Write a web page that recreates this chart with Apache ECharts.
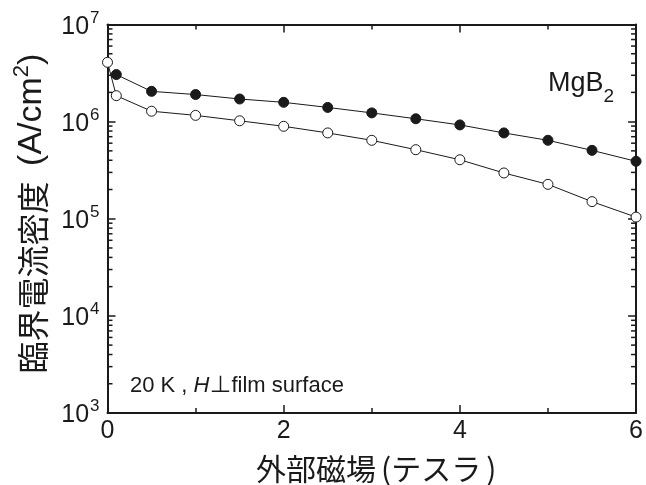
<!DOCTYPE html>
<html>
<head>
<meta charset="utf-8">
<script src="https://cdn.jsdelivr.net/npm/echarts@6/dist/echarts.min.js"></script>
<style>html,body{margin:0;padding:0;background:#fff;}#c{width:646px;height:485px;}</style>
</head>
<body>
<div id="c"></div>
<script>
// Magnetic field (T)
const fieldFilled = [0.1, 0.5, 1, 1.5, 2, 2.5, 3, 3.5, 4, 4.5, 5, 5.5, 6];
const jcFilled = [3.05e6, 2.05e6, 1.90e6, 1.71e6, 1.58e6, 1.40e6, 1.23e6, 1.07e6, 9.25e5, 7.65e5, 6.42e5, 5.06e5, 3.90e5];
const fieldOpen = [0, 0.1, 0.5, 1, 1.5, 2, 2.5, 3, 3.5, 4, 4.5, 5, 5.5, 6];
const jcOpen = [4.08e6, 1.85e6, 1.28e6, 1.16e6, 1.02e6, 8.95e5, 7.65e5, 6.42e5, 5.14e5, 4.05e5, 2.96e5, 2.26e5, 1.50e5, 1.04e5];
const xTicks = [0, 2, 4, 6];
const yMinorTicks = [2e3,3e3,4e3,5e3,6e3,7e3,8e3,9e3,2e4,3e4,4e4,5e4,6e4,7e4,8e4,9e4,2e5,3e5,4e5,5e5,6e5,7e5,8e5,9e5,2e6,3e6,4e6,5e6,6e6,7e6,8e6,9e6];

const FONT = '"Liberation Sans", Arial, "Noto Sans CJK JP", sans-serif';
const CJK = '"Noto Sans CJK JP", "Liberation Sans", sans-serif';
const INK = '#1a1a1a';

const chart = echarts.init(document.getElementById('c'), null, {renderer: 'canvas'});

const supLabel = v => {
  const e = Math.round(Math.log10(v));
  return '{b|10}{s|' + e + '}';
};

const xCommon = {
  type: 'value', min: xTicks[0], max: xTicks[xTicks.length - 1], interval: 2,
  axisLine: {show: true, onZero: false, lineStyle: {color: INK, width: 2}},
  axisTick: {show: true, inside: true, length: 8, lineStyle: {color: INK, width: 1.5}},
  minorTick: {show: true, splitNumber: 2, length: 5, lineStyle: {color: INK, width: 1.5}},
  splitLine: {show: false}, minorSplitLine: {show: false}
};
const yCommon = {
  type: 'log', logBase: 10, min: 1e3, max: 1e7,
  axisLine: {show: true, onZero: false, lineStyle: {color: INK, width: 2}},
  axisTick: {show: true, inside: true, length: 8, lineStyle: {color: INK, width: 1.5}},
  splitLine: {show: false}
};

chart.setOption({
  animation: false,
  backgroundColor: '#fff',
  grid: {left: 107.5, right: 6.5, top: 24.5, bottom: 72},
  xAxis: [
    Object.assign({}, xCommon, {
      position: 'bottom',
      axisLabel: {show: true, margin: 6, color: INK, fontSize: 25, fontFamily: FONT}
    }),
    Object.assign({}, xCommon, {position: 'top', axisLabel: {show: false}})
  ],
  yAxis: [
    Object.assign({}, yCommon, {
      position: 'left',
      axisLabel: {
        show: true, margin: 8, formatter: supLabel, color: INK,
        rich: {
          b: {fontSize: 25, fontFamily: FONT, color: INK, lineHeight: 30, verticalAlign: 'bottom'},
          s: {fontSize: 17, fontFamily: FONT, color: INK, lineHeight: 30, verticalAlign: 'top', padding: [0, 0, 0, 1]}
        }
      }
    }),
    Object.assign({}, yCommon, {position: 'right', axisLabel: {show: false}})
  ],
  series: [
    {
      type: 'custom', xAxisIndex: 0, yAxisIndex: 0, silent: true, clip: false, z: 5,
      data: yMinorTicks.map(v => [xTicks[0], v]),
      renderItem: function (params, api) {
        const v = api.value(1);
        const pL = api.coord([xTicks[0], v]);
        const pR = api.coord([xTicks[xTicks.length - 1], v]);
        return {type: 'group', children: [
          {type: 'line', shape: {x1: pL[0], y1: pL[1], x2: pL[0] + 5, y2: pL[1]}, style: {stroke: INK, lineWidth: 1.5}},
          {type: 'line', shape: {x1: pR[0], y1: pR[1], x2: pR[0] - 5, y2: pR[1]}, style: {stroke: INK, lineWidth: 1.5}}
        ]};
      }
    },
    {
      name: 'filled', type: 'line', xAxisIndex: 0, yAxisIndex: 0,
      data: fieldFilled.map((x, i) => [x, jcFilled[i]]),
      symbol: 'circle', symbolSize: 10, clip: false, z: 10,
      lineStyle: {color: INK, width: 1},
      itemStyle: {color: INK, borderColor: INK, borderWidth: 1}
    },
    {
      name: 'open', type: 'line', xAxisIndex: 0, yAxisIndex: 0,
      data: fieldOpen.map((x, i) => [x, jcOpen[i]]),
      symbol: 'circle', symbolSize: 10, clip: false, z: 10,
      lineStyle: {color: INK, width: 1},
      itemStyle: {color: '#fff', borderColor: INK, borderWidth: 1}
    }
  ],
  graphic: [
    {
      type: 'text', x: 30, y: 213.5, rotation: Math.PI / 2,
      style: {
        text: '{c|臨界電流密度}{l| (A/cm}{s|2}{l|)}',
        align: 'center', verticalAlign: 'middle', fill: INK,
        rich: {
          c: {fontSize: 32, fontFamily: CJK, fill: INK, lineHeight: 38, verticalAlign: 'bottom', padding: [0, 6, 0, 0]},
          l: {fontSize: 34, fontFamily: FONT, fill: INK, lineHeight: 38, verticalAlign: 'bottom'},
          s: {fontSize: 22, fontFamily: FONT, fill: INK, lineHeight: 38, verticalAlign: 'top'}
        }
      }
    },
    {
      type: 'text', x: 256, y: 469,
      style: {
        text: '{c|外部磁場}{p|(}{c|テスラ}{p|)}', align: 'left', verticalAlign: 'middle', fill: INK,
        rich: {
          c: {fontSize: 30, fontFamily: CJK, fill: INK},
          p: {fontSize: 30, fontFamily: CJK, fill: INK, padding: [0, 0, 0, 5]}
        }
      }
    },
    {
      type: 'text', x: 614, y: 88,
      style: {
        text: '{m|MgB}{d|2}', align: 'right', verticalAlign: 'middle', fill: INK,
        rich: {
          m: {fontSize: 27, fontFamily: FONT, fill: INK, lineHeight: 36, verticalAlign: 'top'},
          d: {fontSize: 19, fontFamily: FONT, fill: INK, lineHeight: 36, verticalAlign: 'bottom'}
        }
      }
    },
    {
      type: 'text', x: 130, y: 386,
      style: {
        text: '{n|20 K , }{i|H}{n|⊥film surface}', align: 'left', verticalAlign: 'middle', fill: INK,
        rich: {
          n: {fontSize: 22, fontFamily: FONT, fill: INK},
          i: {fontSize: 22, fontFamily: FONT, fontStyle: 'italic', fill: INK}
        }
      }
    }
  ]
});
</script>
</body>
</html>
